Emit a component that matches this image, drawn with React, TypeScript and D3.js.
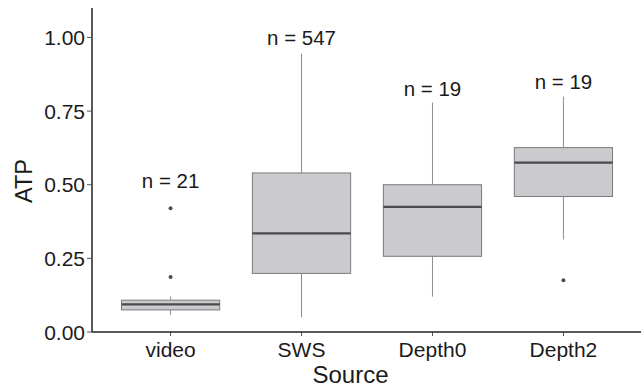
import React from "react";
import * as d3 from "d3";

// box stats
const sources = ["video", "SWS", "Depth0", "Depth2"];
const counts = [21, 547, 19, 19];
const whiskerLow = [0.058, 0.05, 0.12, 0.314];
const q1 = [0.075, 0.199, 0.257, 0.46];
const medians = [0.094, 0.335, 0.425, 0.575];
const q3 = [0.108, 0.54, 0.5, 0.626];
const whiskerHigh = [0.12, 0.945, 0.779, 0.799];
const outliers = [[0.42, 0.187], [], [], [0.176]];
const labelAt = [0.515, 1.0, 0.826, 0.851];
const yTicks = [0, 0.25, 0.5, 0.75, 1.0];

const width = 641;
const height = 388;
const margin = { top: 8, right: -1, bottom: 56, left: 92 };

const App = () => {
  const x = d3
    .scaleBand()
    .domain(sources)
    .range([margin.left, width - margin.right])
    .paddingInner(0)
    .paddingOuter(0.1);

  const y = d3
    .scaleLinear()
    .domain([0, 1.1])
    .range([height - margin.bottom, margin.top]);

  const boxW = x.bandwidth() * 0.75;
  const font = "'Liberation Sans', Arial, Helvetica, sans-serif";
  const y0 = y(0);

  return (
    <svg width={width} height={height} style={{ position: "absolute", left: 0, top: 0 }}>
      <rect width={width} height={height} fill="#ffffff" />
      {sources.map((s, i) => {
        const cx = x(s)! + x.bandwidth() / 2;
        return (
          <g key={s}>
            {/* whiskers */}
            <line x1={cx} x2={cx} y1={y(whiskerHigh[i])} y2={y(q3[i])} stroke="#8c8c8c" strokeWidth={1} />
            <line x1={cx} x2={cx} y1={y(q1[i])} y2={y(whiskerLow[i])} stroke="#8c8c8c" strokeWidth={1} />
            <rect
              x={cx - boxW / 2}
              y={y(q3[i])}
              width={boxW}
              height={y(q1[i]) - y(q3[i])}
              fill="#cbcbcf"
              stroke="#7a7a7a"
              strokeWidth={1}
            />
            <line
              x1={cx - boxW / 2}
              x2={cx + boxW / 2}
              y1={y(medians[i])}
              y2={y(medians[i])}
              stroke="#4a4a4a"
              strokeWidth={2.2}
            />
            {outliers[i].map((o, j) => (
              <circle key={j} cx={cx} cy={y(o)} r={2} fill="#4d4d4d" />
            ))}
            <text
              x={cx}
              y={y(labelAt[i])}
              dy="0.36em"
              textAnchor="middle"
              fontFamily={font}
              fontSize={20.5}
              fill="#1a1a1a"
            >
              n = {counts[i]}
            </text>
            {/* x tick + label */}
            <line x1={cx} x2={cx} y1={y0} y2={y0 + 4} stroke="#555" strokeWidth={1} />
            <text
              x={cx}
              y={y0 + 25}
              textAnchor="middle"
              fontFamily={font}
              fontSize={21}
              fill="#1a1a1a"
            >
              {s}
            </text>
          </g>
        );
      })}

      {/* axes */}
      <line x1={margin.left} x2={margin.left} y1={margin.top} y2={y0} stroke="#222" strokeWidth={1.5} />
      <line x1={margin.left} x2={width} y1={y0} y2={y0} stroke="#222" strokeWidth={1.5} />
      {yTicks.map((t) => (
        <g key={t}>
          <line x1={margin.left - 5} x2={margin.left} y1={y(t)} y2={y(t)} stroke="#555" strokeWidth={1} />
          <text
            x={margin.left - 7}
            y={y(t)}
            dy="0.36em"
            textAnchor="end"
            fontFamily={font}
            fontSize={21}
            fill="#1a1a1a"
          >
            {t.toFixed(2)}
          </text>
        </g>
      ))}

      <text
        transform="translate(32, 181) rotate(-90)"
        textAnchor="middle"
        fontFamily={font}
        fontSize={23.5}
        fill="#1a1a1a"
      >
        ATP
      </text>
      <text
        x={350.5}
        y={383}
        textAnchor="middle"
        fontFamily={font}
        fontSize={24}
        fill="#1a1a1a"
      >
        Source
      </text>
    </svg>
  );
};

export default App;
